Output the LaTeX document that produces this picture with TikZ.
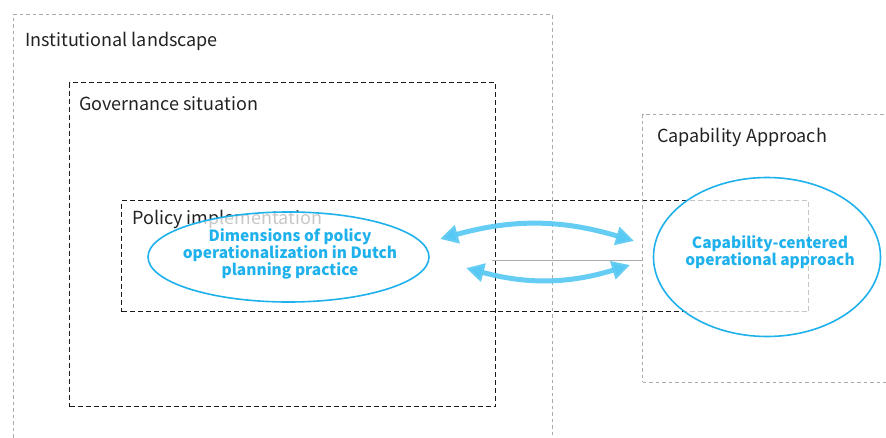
\documentclass[tikz,border=0pt]{standalone}
\usepackage{fontspec}
\setmainfont{Noto Sans CJK KR}
\usepackage{tikz}
\usetikzlibrary{arrows.meta,shapes.geometric}
\definecolor{labeltext}{HTML}{222222}
\definecolor{skyline}{HTML}{1EB1EC}
\definecolor{skyarrow}{HTML}{55C8F3}
\definecolor{lightdash}{HTML}{ABABAB}
\definecolor{darkdash}{HTML}{1A1A1A}

\begin{document}
\begin{tikzpicture}[x=1pt, y=-1pt,
  every node/.style={color=labeltext, font=\fontsize{18}{21}\selectfont, inner sep=0pt},
  lightbox/.style={draw=lightdash, line width=1pt, dash pattern=on 3.5pt off 3pt},
  darkbox/.style={draw=darkdash, line width=1.2pt, dash pattern=on 5pt off 3pt},
  bubble/.style={ellipse, draw=skyline, line width=1.6pt, fill=white, fill opacity=0.75},
  bubbletext/.style={text=skyline, font=\bfseries\fontsize{15.5}{16.8}\selectfont, align=center},
  link/.style={skyarrow, line width=5pt, draw opacity=0.9,
    {Triangle[length=18pt,width=18pt]}-{Triangle[length=18pt,width=18pt]}}]
  \useasboundingbox[fill=white] (0,0) rectangle (886,438);

  \node[lightbox, anchor=north west, minimum width=539, minimum height=440] (inst) at (12.5,14.5) {};
  \node[darkbox, anchor=north west, minimum width=426, minimum height=324] (gov) at (69,82) {};
  \node[darkbox, anchor=north west, minimum width=687, minimum height=111] (pol) at (121,200) {};
  \node[lightbox, anchor=north west, minimum width=260, minimum height=267] (cap) at (642,114.5) {};

  \node[anchor=base west] (instlabel) at (25,47) {Institutional landscape};
  \node[anchor=base west] (govlabel) at (79,111) {Governance situation};
  \node[anchor=base west] (pollabel) at (132,225) {Policy implementation};
  \node[anchor=base west] (caplabel) at (657,143) {Capability Approach};

  \coordinate (tie) at (492,261);
  \draw[lightdash, line width=1pt] (tie) -- (tie -| cap.west);

  \node[bubble, minimum width=281, minimum height=90] (dims) at (288.5,257) {};
  \node[bubble, minimum width=227, minimum height=159] (capab) at (767,257) {};
  \node[bubbletext] (dimslabel) at (290,254) {Dimensions of policy\\operationalization in Dutch\\planning practice};
  \node[bubbletext] (capablabel) at (770,252.5) {Capability-centered\\operational approach};

  \coordinate (upl) at (440,239);
  \coordinate (upr) at (634,241);
  \coordinate (lol) at (466,268);
  \coordinate (lor) at (630,265);
  \draw[link] (upl) to[bend left=16] (upr);
  \draw[link] (lol) to[bend right=16] (lor);
\end{tikzpicture}
\end{document}
